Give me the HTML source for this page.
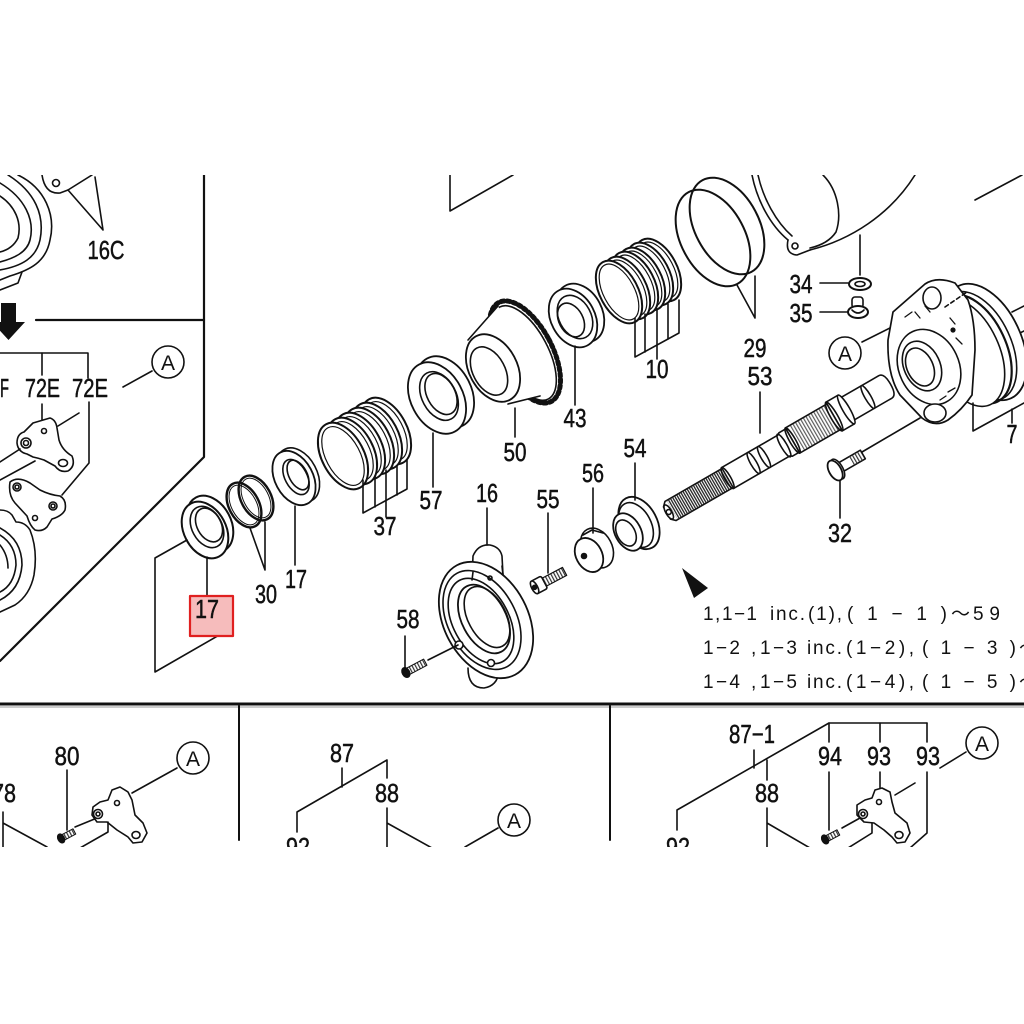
<!DOCTYPE html>
<html><head><meta charset="utf-8"><style>
html,body{margin:0;padding:0;background:#fff;}
svg{display:block;}
.l{font-family:"Liberation Sans","Noto Sans CJK JP",sans-serif;font-size:26px;fill:#111;stroke:#111;stroke-width:0.5;}
.t{font-family:"Liberation Sans","Noto Sans CJK JP",sans-serif;font-size:19px;fill:#111;stroke:none;}
.a{font-family:"Liberation Sans",sans-serif;font-size:21px;fill:#111;stroke:none;}
</style></head><body>
<svg width="1024" height="1024" viewBox="0 0 1024 1024" xmlns="http://www.w3.org/2000/svg">
<defs>
<clipPath id="c"><rect x="0" y="175" width="1024" height="672"/></clipPath>
<pattern id="th" width="2.4" height="4" patternUnits="userSpaceOnUse"><rect width="1.3" height="4" fill="#222"/></pattern>
<pattern id="th2" width="3" height="4" patternUnits="userSpaceOnUse"><rect width="1.2" height="4" fill="#333"/></pattern>
</defs>
<rect width="1024" height="1024" fill="#fff"/>
<g clip-path="url(#c)" fill="none" stroke="#111" stroke-width="1.6" stroke-linejoin="round" stroke-linecap="round">

<!-- ===== frame lines ===== -->
<path d="M204,175 V457 L0,661" stroke-width="2.2"/>
<path d="M36,320 H204" stroke-width="2.2"/>
<path d="M1,303 H16 V322 H25 L8.5,340 L-8,322 H1 Z" fill="#111" stroke="none"/>
<line x1="0" y1="704" x2="1024" y2="704" stroke-width="3"/>
<line x1="0" y1="707" x2="1024" y2="707" stroke="#999" stroke-width="1"/>
<line x1="239" y1="706" x2="239" y2="840" stroke-width="2"/>
<line x1="610" y1="706" x2="610" y2="840" stroke-width="2"/>
<path d="M450,175 V211 L513,175"/>
<path d="M975,200 L1022,175"/>

<!-- ===== top-left housing ===== -->
<path d="M18,175 C45,188 56,215 50,240 C46,262 30,270 10,276 L0,280"/>
<path d="M8,175 C35,192 45,215 40,240 C36,258 22,266 0,270"/>
<path d="M0,183 C25,198 35,220 30,240 C27,252 15,258 0,262"/>
<path d="M0,196 C15,206 22,222 18,238 C14,246 8,250 0,252"/>
<path d="M0,290 L18,283 L22,272"/>
<path d="M42,175 C44,188 50,194 60,193 L68,190 L92,175"/>
<circle cx="56" cy="183" r="3.5"/>
<path d="M68,190 L103,230 L95,177"/>
<text class="l" x="106" y="259" text-anchor="middle" textLength="37" lengthAdjust="spacingAndGlyphs">16C</text>

<!-- ===== left 72E area ===== -->
<path d="M0,353 H88 V378"/>
<path d="M42,353 V375"/>
<path d="M42,404 V420"/>
<path d="M89,402 V463 L62,495"/>
<path d="M58,426 L79,413"/>
<text class="l" x="0" y="397" textLength="9" lengthAdjust="spacingAndGlyphs">F</text>
<text class="l" x="42.5" y="397" text-anchor="middle" textLength="35" lengthAdjust="spacingAndGlyphs">72E</text>
<text class="l" x="90" y="397" text-anchor="middle" textLength="36" lengthAdjust="spacingAndGlyphs">72E</text>
<circle cx="168" cy="362" r="16"/>
<text class="a" x="168" y="370" text-anchor="middle">A</text>
<path d="M123,387 L152,371"/>
<!-- lever 1 -->
<path d="M33,423 L50,418 Q56,420 57,428 L59,440 Q62,450 72,456 Q76,466 68,471 Q60,473 55,466 L44,460 Q38,458 33,457 L27,454 Q18,452 17,443 Q17,434 24,432 Z" fill="#fff"/>
<circle cx="44" cy="431" r="2.5"/>
<circle cx="26" cy="443" r="5"/><circle cx="26" cy="443" r="2.5"/>
<ellipse cx="63" cy="463" rx="4.5" ry="3.5"/>
<path d="M0,462 L20,449"/>
<path d="M0,480 L35,461"/>
<!-- lever 2 -->
<path d="M10,482 Q18,476 30,483 L40,490 Q50,495 60,496 Q67,500 65,510 Q62,516 52,519 L47,527 Q42,532 35,530 Q30,526 27,516 L15,503 Q8,495 10,482 Z" fill="#fff"/>
<circle cx="17" cy="487" r="4"/><circle cx="17" cy="487" r="2"/>
<circle cx="53" cy="506" r="4"/><circle cx="53" cy="506" r="2"/>
<circle cx="35" cy="518" r="2.5"/>
<!-- housing lower left -->
<path d="M0,510 Q8,510 12,515 L16,522 Q25,522 30,530 Q38,550 34,575 Q30,595 15,605 L0,612"/>
<path d="M0,528 Q22,540 22,565 Q20,590 0,600"/>
<path d="M0,535 Q16,545 16,565 Q14,585 0,592"/>
<path d="M0,545 Q8,555 8,568"/>

<!-- ===== seal 17 (red) ===== -->
<ellipse cx="210" cy="524" rx="21" ry="30" transform="rotate(-28 210 524)" fill="#fff" stroke-width="2"/>
<ellipse cx="205" cy="530" rx="21" ry="30" transform="rotate(-28 205 530)" fill="#fff" stroke-width="2"/>
<ellipse cx="207" cy="527" rx="15" ry="22" transform="rotate(-28 207 527)"/>
<ellipse cx="209" cy="525" rx="12" ry="18" transform="rotate(-28 209 525)"/>
<path d="M207,557 V595"/>
<path d="M187,540 L155,558 V672 L228,630"/>
<rect x="190" y="596" width="43" height="40" fill="#f6bcbc" stroke="#e02020" stroke-width="2.2"/>
<text class="l" x="207" y="618" text-anchor="middle" textLength="24" lengthAdjust="spacingAndGlyphs">17</text>

<!-- ===== O-rings 30 ===== -->
<ellipse cx="256" cy="498" rx="15" ry="24" transform="rotate(-28 256 498)" stroke-width="2.4"/>
<ellipse cx="256" cy="498" rx="12.5" ry="21.5" transform="rotate(-28 256 498)" stroke-width="1"/>
<ellipse cx="244" cy="505" rx="15" ry="24" transform="rotate(-28 244 505)" stroke-width="2.4"/>
<ellipse cx="244" cy="505" rx="12.5" ry="21.5" transform="rotate(-28 244 505)" stroke-width="1"/>
<path d="M250,528 L265,570 L265,522"/>
<text class="l" x="266" y="603" text-anchor="middle" textLength="22" lengthAdjust="spacingAndGlyphs">30</text>

<!-- ===== washer 17 ===== -->
<ellipse cx="298" cy="475" rx="19" ry="29" transform="rotate(-28 298 475)" fill="#fff"/>
<ellipse cx="294" cy="478" rx="19" ry="29" transform="rotate(-28 294 478)" fill="#fff" stroke-width="1.8"/>
<ellipse cx="296" cy="477" rx="11" ry="19" transform="rotate(-28 296 477)"/>
<ellipse cx="298" cy="475" rx="9" ry="16" transform="rotate(-28 298 475)"/>
<path d="M295,506 V565"/>
<text class="l" x="296" y="588" text-anchor="middle" textLength="22" lengthAdjust="spacingAndGlyphs">17</text>

<!-- ===== springs 37 ===== -->
<g stroke-width="2">
<ellipse cx="386" cy="431" rx="21" ry="36" transform="rotate(-28 386 431)" fill="#fff"/>
<ellipse cx="386" cy="431" rx="17" ry="32" transform="rotate(-28 386 431)" stroke-width="1.2"/>
<ellipse cx="377" cy="436" rx="21" ry="36" transform="rotate(-28 377 436)" fill="#fff"/>
<ellipse cx="377" cy="436" rx="17" ry="32" transform="rotate(-28 377 436)" stroke-width="1.2"/>
<ellipse cx="369" cy="441" rx="21" ry="36" transform="rotate(-28 369 441)" fill="#fff"/>
<ellipse cx="369" cy="441" rx="17" ry="32" transform="rotate(-28 369 441)" stroke-width="1.2"/>
<ellipse cx="360" cy="446" rx="21" ry="36" transform="rotate(-28 360 446)" fill="#fff"/>
<ellipse cx="360" cy="446" rx="17" ry="32" transform="rotate(-28 360 446)" stroke-width="1.2"/>
<ellipse cx="352" cy="451" rx="21" ry="36" transform="rotate(-28 352 451)" fill="#fff"/>
<ellipse cx="352" cy="451" rx="17" ry="32" transform="rotate(-28 352 451)" stroke-width="1.2"/>
<ellipse cx="343" cy="456" rx="21" ry="36" transform="rotate(-28 343 456)" fill="#fff"/>
<ellipse cx="343" cy="456" rx="17" ry="32" transform="rotate(-28 343 456)" stroke-width="1.2"/>
</g>
<path d="M363,480 V513 L407,489 V460"/>
<path d="M375,476 V507"/>
<path d="M386,470 V517"/>
<path d="M397,466 V495"/>
<text class="l" x="385" y="535" text-anchor="middle" textLength="23" lengthAdjust="spacingAndGlyphs">37</text>

<!-- ===== bearing 57 ===== -->
<ellipse cx="445" cy="392" rx="26" ry="38" transform="rotate(-28 445 392)" fill="#fff" stroke-width="1.8"/>
<ellipse cx="437" cy="398" rx="26" ry="38" transform="rotate(-28 437 398)" fill="#fff" stroke-width="1.8"/>
<ellipse cx="439" cy="396" rx="17" ry="26" transform="rotate(-28 439 396)"/>
<ellipse cx="441" cy="394" rx="14" ry="22" transform="rotate(-28 441 394)"/>
<path d="M433,433 V487"/>
<text class="l" x="431" y="509" text-anchor="middle" textLength="23" lengthAdjust="spacingAndGlyphs">57</text>

<!-- ===== gear 50 ===== -->
<ellipse cx="525" cy="352" rx="27" ry="56" transform="rotate(-28 525 352)" fill="#fff" stroke-width="5" stroke-dasharray="3 3"/>
<ellipse cx="524" cy="353" rx="24" ry="52" transform="rotate(-28 524 353)" fill="#fff" stroke-width="1.6"/>
<path d="M468,340 L498,306 L540,395 L512,404 Z" fill="#fff" stroke="none"/>
<path d="M468,340 L498,306"/>
<path d="M508,404 L540,396"/>
<ellipse cx="493" cy="368" rx="24" ry="36" transform="rotate(-28 493 368)" fill="#fff" stroke-width="1.8"/>
<ellipse cx="489" cy="371" rx="16" ry="26" transform="rotate(-28 489 371)"/>
<path d="M515,408 V437"/>
<text class="l" x="515" y="461" text-anchor="middle" textLength="23" lengthAdjust="spacingAndGlyphs">50</text>

<!-- ===== bearing 43 ===== -->
<ellipse cx="580" cy="313" rx="22" ry="31" transform="rotate(-28 580 313)" fill="#fff" stroke-width="1.8"/>
<ellipse cx="573" cy="318" rx="22" ry="31" transform="rotate(-28 573 318)" fill="#fff" stroke-width="1.8"/>
<ellipse cx="575" cy="317" rx="16" ry="23" transform="rotate(-28 575 317)"/>
<ellipse cx="571" cy="320" rx="12" ry="18" transform="rotate(-28 571 320)"/>
<path d="M575,346 V405"/>
<text class="l" x="575" y="427" text-anchor="middle" textLength="23" lengthAdjust="spacingAndGlyphs">43</text>

<!-- ===== springs 10 ===== -->
<g stroke-width="2">
<ellipse cx="658" cy="270" rx="19" ry="34" transform="rotate(-28 658 270)" fill="#fff"/>
<ellipse cx="658" cy="270" rx="15.5" ry="30.5" transform="rotate(-28 658 270)" stroke-width="1.2"/>
<ellipse cx="650" cy="274" rx="19" ry="34" transform="rotate(-28 650 274)" fill="#fff"/>
<ellipse cx="650" cy="274" rx="15.5" ry="30.5" transform="rotate(-28 650 274)" stroke-width="1.2"/>
<ellipse cx="642" cy="279" rx="19" ry="34" transform="rotate(-28 642 279)" fill="#fff"/>
<ellipse cx="642" cy="279" rx="15.5" ry="30.5" transform="rotate(-28 642 279)" stroke-width="1.2"/>
<ellipse cx="635" cy="283" rx="19" ry="34" transform="rotate(-28 635 283)" fill="#fff"/>
<ellipse cx="635" cy="283" rx="15.5" ry="30.5" transform="rotate(-28 635 283)" stroke-width="1.2"/>
<ellipse cx="627" cy="288" rx="19" ry="34" transform="rotate(-28 627 288)" fill="#fff"/>
<ellipse cx="627" cy="288" rx="15.5" ry="30.5" transform="rotate(-28 627 288)" stroke-width="1.2"/>
<ellipse cx="619" cy="292" rx="19" ry="34" transform="rotate(-28 619 292)" fill="#fff"/>
<ellipse cx="619" cy="292" rx="15.5" ry="30.5" transform="rotate(-28 619 292)" stroke-width="1.2"/>
</g>
<path d="M635,318 V357 L679,333 V300"/>
<path d="M645,314 V352"/>
<path d="M657,309 V359"/>
<path d="M668,304 V339"/>
<text class="l" x="657" y="378" text-anchor="middle" textLength="23" lengthAdjust="spacingAndGlyphs">10</text>

<!-- ===== O-rings 29 ===== -->
<ellipse cx="727" cy="226" rx="32" ry="52" transform="rotate(-28 727 226)" stroke-width="2"/>
<ellipse cx="713" cy="238" rx="32" ry="52" transform="rotate(-28 713 238)" stroke-width="2"/>
<path d="M737,285 L755,318 L755,276"/>
<text class="l" x="755" y="357" text-anchor="middle" textLength="23" lengthAdjust="spacingAndGlyphs">29</text>
<text class="l" x="760" y="385" text-anchor="middle" textLength="25" lengthAdjust="spacingAndGlyphs">53</text>
<path d="M760,392 V433"/>

<!-- ===== top-right housing ===== -->
<path d="M752,175 C757,200 770,225 788,240"/>
<path d="M758,175 C763,198 776,222 792,236"/>
<path d="M788,240 Q785,254 797,255 L810,250"/>
<circle cx="795" cy="246" r="3"/>
<path d="M810,250 C850,240 890,215 915,175"/>
<path d="M823,175 C838,190 842,215 836,232 Q828,244 810,248"/>
<path d="M860,235 V275"/>
<text class="l" x="801" y="293" text-anchor="middle" textLength="23" lengthAdjust="spacingAndGlyphs">34</text>
<path d="M820,283 H848"/>
<ellipse cx="860" cy="284" rx="11" ry="6" fill="#fff" stroke-width="2"/>
<ellipse cx="860" cy="284" rx="5" ry="2.5"/>
<text class="l" x="801" y="322" text-anchor="middle" textLength="23" lengthAdjust="spacingAndGlyphs">35</text>
<path d="M820,312 H848"/>
<rect x="852" y="297" width="11" height="11" rx="3" fill="#fff"/>
<ellipse cx="858" cy="312" rx="10" ry="6" fill="#fff" stroke-width="2"/>
<path d="M852,310 Q858,316 864,310"/>

<!-- ===== circle A right ===== -->
<circle cx="845" cy="353" r="16"/>
<text class="a" x="845" y="361" text-anchor="middle">A</text>
<path d="M862,342 L890,328"/>

<!-- ===== housing 7 ===== -->
<path d="M1012,312 L1024,306 M1018,334 L1024,331"/>
<ellipse cx="985" cy="342" rx="36" ry="62" transform="rotate(-25 985 342)" fill="#fff" stroke-width="1.8"/>
<ellipse cx="978" cy="346" rx="33" ry="58" transform="rotate(-25 978 346)"/>
<ellipse cx="973" cy="349" rx="33" ry="58" transform="rotate(-25 973 349)" stroke-width="2.2"/>
<ellipse cx="966" cy="352" rx="33" ry="58" transform="rotate(-25 966 352)" fill="#fff"/>
<path d="M893,312 L925,284 Q937,276 955,283 L968,300 Q975,320 975,350 L972,395 Q962,410 948,420 Q935,428 922,418 L900,395 Q887,375 888,340 Z" fill="#fff" stroke-width="1.7"/>
<ellipse cx="929" cy="367" rx="30" ry="39" transform="rotate(-25 929 367)" fill="#fff"/>
<ellipse cx="922" cy="366" rx="18" ry="26" transform="rotate(-25 922 366)"/>
<ellipse cx="920" cy="367" rx="13" ry="20" transform="rotate(-25 920 367)"/>
<ellipse cx="932" cy="298" rx="9" ry="11" fill="#fff"/>
<ellipse cx="935" cy="413" rx="11" ry="9" fill="#fff"/>
<path d="M905,317 L912,312 M915,312 L920,318 M925,306 L930,312 M950,318 L955,324 M956,338 L962,344 M948,392 L955,388 M940,400 L946,396" stroke-width="1.3"/>
<circle cx="953" cy="330" r="1.8" fill="#111"/>
<path d="M945,307 L967,292" stroke-dasharray="4 3"/>
<path d="M920,418 L862,452"/>
<path d="M973,403 V431 L1024,403"/>
<path d="M1012,409 V423"/>
<text class="l" x="1012" y="443" text-anchor="middle" textLength="11" lengthAdjust="spacingAndGlyphs">7</text>

<!-- ===== shaft 53 ===== -->
<g transform="translate(667,513) rotate(-30)">
<path d="M207,-13 H252 Q258,-13 258,0 Q258,13 252,13 H207 Z" fill="#fff"/>
<ellipse cx="232" cy="0" rx="3" ry="13"/>
<path d="M193,-16.5 H207 V16.5 H193 Z" fill="#fff"/>
<ellipse cx="207" cy="0" rx="3.5" ry="16.5" fill="#fff"/>
<path d="M145,-14.5 H193 V14.5 H145 Z" fill="#fff"/>
<rect x="150" y="-14" width="42" height="28" fill="url(#th2)" stroke="none" opacity="0.8"/>
<ellipse cx="193" cy="0" rx="3.5" ry="16.5"/>
<path d="M70,-12 H135 L137,-13.5 H145 V13.5 H137 L135,12 H70" fill="#fff"/>
<ellipse cx="145" cy="0" rx="3" ry="14.5"/>
<ellipse cx="135" cy="0" rx="3" ry="13"/>
<ellipse cx="100" cy="0" rx="3" ry="12"/>
<ellipse cx="112" cy="0" rx="3" ry="12"/>
<path d="M4,-11 H70 V11 H4 L0,7 V-7 Z" fill="#fff"/>
<rect x="6" y="-11" width="64" height="22" fill="url(#th)" stroke="none"/>
<ellipse cx="70" cy="0" rx="3" ry="12"/>
<ellipse cx="2" cy="0" rx="3" ry="8" fill="#fff"/>
<circle cx="2" cy="0" r="2.5"/>
</g>

<!-- ===== bolt 32 ===== -->
<g transform="translate(836,470) rotate(-30)">
<rect x="5" y="-5" width="26" height="10" fill="#fff"/>
<rect x="18" y="-5" width="12" height="10" fill="url(#th2)" stroke="none"/>
<ellipse cx="2" cy="0" rx="5" ry="11" fill="#fff"/>
<ellipse cx="-1" cy="0" rx="6" ry="11" fill="#fff" stroke-width="1.8"/>
</g>
<path d="M840,481 V518"/>
<text class="l" x="840" y="542" text-anchor="middle" textLength="24" lengthAdjust="spacingAndGlyphs">32</text>

<!-- ===== flange 16 ===== -->
<path d="M472,580 L473,556 Q478,544 490,545 Q500,547 502,556 L503,575" fill="#fff"/>
<path d="M468,668 Q468,688 484,688 Q497,686 499,672" fill="#fff"/>
<ellipse cx="486" cy="620" rx="42" ry="62" transform="rotate(-28 486 620)" fill="#fff" stroke-width="1.8"/>
<path d="M472,580 L473,572 M503,575 L502,566"/>
<ellipse cx="482" cy="620" rx="34" ry="53" transform="rotate(-28 482 620)"/>
<ellipse cx="481" cy="621" rx="28" ry="46" transform="rotate(-28 481 621)"/>
<ellipse cx="484" cy="619" rx="22" ry="37" transform="rotate(-28 484 619)" stroke-width="1.8"/>
<ellipse cx="487" cy="617" rx="19" ry="33" transform="rotate(-28 487 617)"/>
<circle cx="459" cy="645" r="4" fill="#fff"/>
<circle cx="491" cy="663" r="3.5" fill="#fff"/>
<circle cx="490" cy="578" r="2"/>
<path d="M487,508 V545"/>
<text class="l" x="487" y="502" text-anchor="middle" textLength="22" lengthAdjust="spacingAndGlyphs">16</text>
<path d="M428,660 L458,645"/>

<!-- screw 58 -->
<g transform="translate(405,673) rotate(-28)">
<rect x="3" y="-3.5" width="20" height="7" fill="url(#th2)" stroke-width="1"/>
<ellipse cx="1" cy="0" rx="3.5" ry="5" fill="#111"/>
</g>
<path d="M405,636 V668"/>
<text class="l" x="408" y="628" text-anchor="middle" textLength="23" lengthAdjust="spacingAndGlyphs">58</text>

<!-- bolt 55 -->
<g transform="translate(539,585) rotate(-28)">
<rect x="5" y="-4.5" width="24" height="9" fill="url(#th2)" stroke-width="1.2"/>
<rect x="-6" y="-7" width="12" height="14" rx="2" fill="#fff"/>
<ellipse cx="-5" cy="0" rx="3" ry="7" fill="#fff"/>
<circle cx="-5" cy="0" r="2" fill="#111"/>
</g>
<path d="M548,513 V573"/>
<text class="l" x="548" y="508" text-anchor="middle" textLength="23" lengthAdjust="spacingAndGlyphs">55</text>

<!-- nut 56 -->
<ellipse cx="597" cy="548" rx="15" ry="21" transform="rotate(-28 597 548)" fill="#fff"/>
<path d="M583,535 L592,530 L603,533" />
<ellipse cx="589" cy="555" rx="13" ry="18" transform="rotate(-28 589 555)" fill="#fff" stroke-width="1.8"/>
<circle cx="584" cy="556" r="2.5" fill="#111"/>
<path d="M593,488 V533"/>
<text class="l" x="593" y="482" text-anchor="middle" textLength="22" lengthAdjust="spacingAndGlyphs">56</text>

<!-- part 54 -->
<ellipse cx="639" cy="523" rx="18" ry="28" transform="rotate(-28 639 523)" fill="#fff" stroke-width="1.8"/>
<ellipse cx="636" cy="525" rx="15" ry="24" transform="rotate(-28 636 525)"/>
<ellipse cx="628" cy="532" rx="13" ry="20" transform="rotate(-28 628 532)" fill="#fff" stroke-width="1.8"/>
<ellipse cx="626" cy="533" rx="9" ry="14" transform="rotate(-28 626 533)"/>
<path d="M635,463 V500"/>
<text class="l" x="635" y="457" text-anchor="middle" textLength="23" lengthAdjust="spacingAndGlyphs">54</text>

<!-- black arrow -->
<polygon points="682,568 708,588 694,598" fill="#111" stroke="none"/>

<!-- text block -->
<text class="t" x="703" y="620">1</text>
<text class="t" x="715" y="620">,</text>
<text class="t" x="722" y="620" textLength="35" lengthAdjust="spacing">1−1</text>
<text class="t" x="770" y="620" textLength="35" lengthAdjust="spacing">inc.</text>
<text class="t" x="808" y="620" textLength="34" lengthAdjust="spacing">(1),</text>
<text class="t" x="847" y="620" textLength="100" lengthAdjust="spacing">(1−1)</text>
<text class="t" x="951" y="620">～</text>
<text class="t" x="973" y="620" textLength="27" lengthAdjust="spacing">59</text>

<text class="t" x="703" y="654" textLength="37" lengthAdjust="spacing">1−2</text>
<text class="t" x="751" y="654">,</text>
<text class="t" x="760" y="654" textLength="37" lengthAdjust="spacing">1−3</text>
<text class="t" x="807" y="654" textLength="35" lengthAdjust="spacing">inc.</text>
<text class="t" x="846" y="654" textLength="68" lengthAdjust="spacing">(1−2),</text>
<text class="t" x="922" y="654" textLength="94" lengthAdjust="spacing">(1−3)</text>
<text class="t" x="1019" y="654">～</text>

<text class="t" x="703" y="688" textLength="37" lengthAdjust="spacing">1−4</text>
<text class="t" x="751" y="688">,</text>
<text class="t" x="760" y="688" textLength="37" lengthAdjust="spacing">1−5</text>
<text class="t" x="807" y="688" textLength="35" lengthAdjust="spacing">inc.</text>
<text class="t" x="846" y="688" textLength="68" lengthAdjust="spacing">(1−4),</text>
<text class="t" x="922" y="688" textLength="94" lengthAdjust="spacing">(1−5)</text>
<text class="t" x="1019" y="688">～</text>

<!-- ===== bottom-left panel ===== -->
<text class="l" x="16" y="802" text-anchor="end" textLength="24" lengthAdjust="spacingAndGlyphs">78</text>
<path d="M3,812 V848 M3,823 L47,847"/>
<text class="l" x="67" y="765" text-anchor="middle" textLength="25" lengthAdjust="spacingAndGlyphs">80</text>
<path d="M67,770 V830"/>
<g transform="translate(62,838) rotate(-28)">
<rect x="0" y="-3" width="14" height="6" fill="url(#th2)" stroke-width="1"/>
<ellipse cx="-1" cy="0" rx="3" ry="4.5" fill="#111"/>
</g>
<path d="M75,827 L97,818"/>
<path d="M93,807 L100,802 L108,800 L112,790 L120,787 L128,792 L132,800 L135,815 L143,823 L147,833 L142,842 L133,843 L128,837 L117,830 L107,822 L97,822 L92,815 Z" fill="#fff"/>
<circle cx="117" cy="803" r="2.5"/>
<circle cx="98" cy="814" r="4.5"/><circle cx="98" cy="814" r="2"/>
<ellipse cx="136" cy="835" rx="4" ry="3.5"/>
<path d="M108,822 V832 L80,848"/>
<path d="M132,793 L177,768"/>
<circle cx="193" cy="758" r="16"/>
<text class="a" x="193" y="766" text-anchor="middle">A</text>

<!-- ===== bottom-middle panel ===== -->
<text class="l" x="342" y="762" text-anchor="middle" textLength="24" lengthAdjust="spacingAndGlyphs">87</text>
<path d="M342,768 V787"/>
<path d="M297,832 V812 L387,760 V778"/>
<text class="l" x="387" y="802" text-anchor="middle" textLength="24" lengthAdjust="spacingAndGlyphs">88</text>
<path d="M387,808 V848 M387,823 L432,848"/>
<text class="l" x="298" y="856" text-anchor="middle" textLength="24" lengthAdjust="spacingAndGlyphs">92</text>
<path d="M465,847 L498,828"/>
<circle cx="514" cy="820" r="16"/>
<text class="a" x="514" y="828" text-anchor="middle">A</text>

<!-- ===== bottom-right panel ===== -->
<text class="l" x="752" y="743" text-anchor="middle" textLength="46" lengthAdjust="spacingAndGlyphs">87−1</text>
<path d="M754,750 V768"/>
<path d="M677,830 V810 L829,723 H927"/>
<path d="M767,760 V780"/>
<text class="l" x="767" y="802" text-anchor="middle" textLength="24" lengthAdjust="spacingAndGlyphs">88</text>
<path d="M767,808 V848 M767,823 L810,848"/>
<text class="l" x="678" y="856" text-anchor="middle" textLength="24" lengthAdjust="spacingAndGlyphs">92</text>
<path d="M829,723 V742 M880,723 V742 M927,723 V742"/>
<text class="l" x="830" y="765" text-anchor="middle" textLength="24" lengthAdjust="spacingAndGlyphs">94</text>
<text class="l" x="879" y="765" text-anchor="middle" textLength="24" lengthAdjust="spacingAndGlyphs">93</text>
<text class="l" x="928" y="765" text-anchor="middle" textLength="24" lengthAdjust="spacingAndGlyphs">93</text>
<path d="M829,772 V830"/>
<path d="M880,772 V789"/>
<path d="M927,772 V833 L910,848"/>
<g transform="translate(826,839) rotate(-28)">
<rect x="0" y="-3" width="14" height="6" fill="url(#th2)" stroke-width="1"/>
<ellipse cx="-1" cy="0" rx="3" ry="4.5" fill="#111"/>
</g>
<path d="M842,828 L860,818"/>
<path d="M857,805 L865,800 L872,798 L875,790 L882,788 L890,792 L892,802 L895,813 L907,823 L910,833 L905,842 L897,843 L892,837 L884,830 L874,823 L864,822 L857,815 Z" fill="#fff"/>
<circle cx="879" cy="802" r="2.5"/>
<circle cx="863" cy="814" r="4.5"/><circle cx="863" cy="814" r="2"/>
<ellipse cx="899" cy="835" rx="4" ry="3.5"/>
<path d="M872,823 V833 L848,848"/>
<path d="M895,795 L915,783"/>
<path d="M940,768 L966,752"/>
<circle cx="982" cy="743" r="16"/>
<text class="a" x="982" y="751" text-anchor="middle">A</text>
</g>
</svg>
</body></html>
